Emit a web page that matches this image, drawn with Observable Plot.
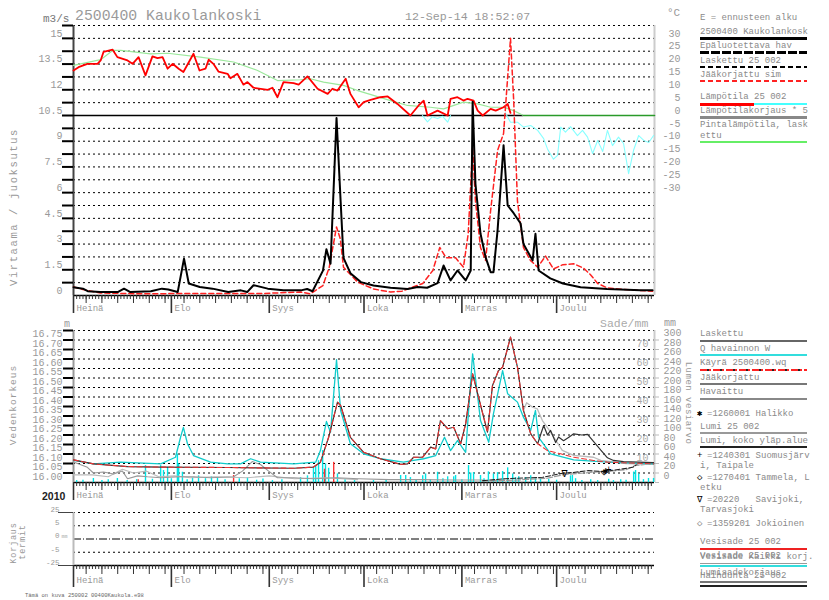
<!DOCTYPE html>
<html>
<head>
<meta charset="utf-8">
<script src="https://cdn.jsdelivr.net/npm/d3@7"></script>
<script src="https://cdn.jsdelivr.net/npm/@observablehq/plot@0.6"></script>
<style>
html,body{margin:0;padding:0;background:#fff;}
#root{position:relative;width:829px;height:600px;overflow:hidden;font-family:"Liberation Mono","DejaVu Sans Mono",monospace;}
.t{position:absolute;white-space:pre;line-height:1;}
</style>
</head>
<body>
<div id="root"></div>
<script>
// ================= DATA =================
// x = day index counted from 1 Jul 2010
const months = ["Heinä","Elo","Syys","Loka","Marras","Joulu"];
const monthStart = [0,31,62,92,123,153];

// --- top panel: discharge m3/s ---
const qObs = [[0,0.48],[3,0.4],[4.5,0.25],[8.5,0.2],[14,0.2],[16,0.4],[18,0.2],[24.5,0.25],[28,0.4],[30,0.35],[33,0.2],[35,2.15],[36.5,0.7],[40,0.5],[44,0.4],[49,0.2],[53,0.3],[55,0.2],[57,0.6],[61.5,0.4],[66.5,0.3],[72,0.3],[74,0.38],[75.7,0.25],[79,1.45],[80.1,2.7],[81.4,1.85],[83.3,10.35],[84.6,5.5],[85.5,2.2],[87.7,1.3],[91,0.78],[95,0.58],[100.4,0.45],[105.8,0.38],[109,0.5],[112,0.45],[115.3,0.72],[117.2,1.75],[119.4,0.88],[121.6,1.46],[124.2,0.88],[125.8,1.46],[126.4,11.3],[127.3,6.5],[128.9,3.6],[130.5,2.24],[132.1,1.36],[133,1.36],[134.3,3.8],[136.2,8.76],[137.5,5.25],[139.4,4.8],[141.6,4.2],[142.5,3.0],[145.4,2.05],[146.3,3.6],[147.3,1.46],[151,1.0],[155,0.7],[160.6,0.48],[169,0.38],[179.6,0.3],[183.4,0.3]];
const qSim = [[0,0.5],[3,0.35],[8.5,0.15],[20,0.1],[40,0.12],[60,0.12],[72,0.2],[75,0.1],[79,0.58],[81,1.65],[83.3,4.0],[84.5,3.3],[85.5,1.65],[90,0.78],[95,0.38],[100.4,0.2],[104,0.25],[107.5,0.5],[110.6,0.7],[113.8,1.46],[116,2.8],[118,2.2],[121,2.2],[123.5,1.65],[125,3.6],[126.4,8.66],[127.3,5.5],[128.9,2.8],[130.5,2.05],[132.1,4.96],[134.3,8.46],[136.2,9.45],[138.4,15.0],[139.4,11.4],[140.6,5.5],[142.5,2.8],[144.7,2.05],[147,1.65],[149.5,2.3],[152,1.55],[155,1.8],[158.4,1.85],[161.5,1.6],[163.8,1.2],[166,0.7],[169,0.45],[174,0.35],[183.4,0.25]];

// --- top panel: temperature °C ---
const tempObs = [[0,17.5],[1.6,18.8],[4.4,20.1],[7.6,20.1],[8.6,21.4],[9.5,24.7],[12.4,25.6],[13.9,22.7],[17.1,21.4],[18.7,20.1],[20.6,22.7],[22.8,15.6],[25,23],[26.6,22.3],[28.2,22.7],[29.8,18.2],[31.4,20.1],[33.3,18.2],[34.8,16.9],[38,24],[39.9,17.5],[41.8,18.2],[42.8,21.7],[44.3,20.1],[45.9,17.1],[48.8,16.2],[49.7,14.5],[51.9,16.2],[53.8,12],[55.1,13],[57,10.8],[61.5,10],[63,10.8],[64.6,7.1],[66.5,13],[69.7,12.6],[71.3,12],[74.1,15.2],[77.3,10.4],[80.5,8.4],[82,10.4],[83.6,9.7],[86.2,14.3],[87.7,8.4],[90.3,3.2],[91.9,5.2],[94.1,6.1],[97.2,7.1],[99.5,7.4],[102.6,4.5],[106.7,0],[109.3,3.9],[110.9,5.8],[112.1,0],[115.3,1.9],[118.5,0],[119.4,6.5],[121.6,7.1],[123.5,5.8],[124.8,6.5],[126.7,5.8],[128,1.9],[129.6,0],[132.1,2.6],[133.7,1.9],[136.2,3.2],[137.5,4.5],[138.4,1]];
const tempCyanA = [[110.5,0],[112.1,-2.5],[113.6,-0.5],[115.3,-1.2],[116.9,-0.3],[118.5,-2.6],[119.4,0]];
const tempCyanB = [[136.8,1],[138.4,-2.6],[140.6,-2.6],[142.5,-4.5],[144.8,-3.9],[147,-5.8],[148.9,-9],[150.1,-13],[152,-17],[153.3,-15.5],[154.3,-4.5],[155.8,-6.5],[157.4,-4.3],[159.6,-7.8],[161.2,-5.8],[162.8,-8.4],[164.4,-14.8],[166,-9.7],[167.6,-14],[169.1,-5.8],[170.7,-11.7],[172.6,-8.4],[174.2,-10.9],[175.8,-22.6],[177.4,-13.4],[179,-7.8],[180.6,-9.7],[182.2,-10.5],[183.7,-7.8]];
const tempSurf = [[0,19.5],[8.6,21.7],[12.4,25.3],[15,25.3],[24.4,24],[29.8,24.2],[40.2,22.7],[50.7,20.8],[58.3,17.5],[64.6,13.6],[71.9,13.9],[75,14.3],[79.2,13],[85.5,11.7],[90,9.7],[95,7.8],[100.4,5.8],[105.8,3.9],[113,3.2],[117.2,2.6],[123.5,5.2],[128,4.5],[132.1,3.2],[136.2,3.2],[139.4,1.9],[142.5,0],[184,0]];

// --- middle panel: water level m ---
const levelQ = [[0,16.066],[6.3,16.048],[14.9,16.057],[27.6,16.048],[32.3,16.083],[33.9,16.188],[34.8,16.24],[36.1,16.154],[38,16.092],[43.4,16.057],[48.8,16.048],[52.9,16.048],[56.1,16.075],[59.2,16.057],[69.7,16.048],[76.7,16.057],[78.2,16.118],[80.1,16.271],[81.4,16.215],[83.3,16.596],[84.6,16.329],[87.7,16.154],[91.9,16.101],[97.2,16.075],[104.5,16.057],[107.7,16.066],[110.9,16.075],[114.7,16.092],[117.5,16.188],[119.4,16.118],[121.6,16.171],[124.2,16.109],[126.4,16.627],[128.9,16.276],[131.5,16.162],[133,16.313],[135.9,16.539],[137.5,16.417],[140.6,16.373],[142.5,16.294],[144.8,16.224],[146.3,16.329],[147.3,16.188],[151.1,16.101],[158.4,16.069],[169.1,16.057],[183.7,16.048]];
const levelCurve = [[0,16.069],[6.3,16.048],[17.1,16.034],[27.6,16.031],[48.8,16.029],[69.7,16.025],[76,16.031],[78.2,16.057],[80.8,16.188],[83.6,16.373],[84.6,16.355],[87.7,16.188],[91.9,16.109],[97.2,16.075],[103.6,16.045],[105.8,16.048],[107.7,16.083],[110.6,16.083],[113.1,16.136],[114.7,16.127],[116.2,16.276],[118.5,16.233],[120.4,16.241],[122.6,16.154],[124.2,16.259],[126.4,16.522],[128,16.417],[131.1,16.215],[132.7,16.461],[134.6,16.539],[135.9,16.557],[138.4,16.715],[140.6,16.557],[142.5,16.329],[144.8,16.206],[147,16.154],[150.1,16.118],[154.3,16.101],[158.4,16.083],[164.7,16.066],[169.1,16.057],[183.7,16.048]];
const levelSimTail = [[147.9,16.2],[148.9,16.25],[150.1,16.2],[151.1,16.224],[152.7,16.16],[153.6,16.19],[155.2,16.17],[157,16.19],[158.4,16.206],[161,16.2],[162.8,16.203],[165,16.16],[167,16.12],[169.1,16.08],[171,16.066],[174.2,16.06],[183.7,16.055]];
const levelIce = [[142.5,16.329],[143.5,16.37],[145.4,16.346],[146.9,16.337],[148.5,16.276],[150.7,16.224],[154.8,16.119],[158.4,16.093],[164.7,16.083],[167,16.066],[175,16.05],[183.7,16.045]];
const levelHav = [[0,16.058],[4.4,16.03],[6.3,16.0],[9.5,16.005],[12.7,15.995],[15.5,16.01],[17.1,15.97],[20.3,15.985],[23.4,15.98],[27.6,15.975],[33.9,15.98],[38,15.98],[43.4,15.975],[50.7,15.98],[53.5,16.01],[56.6,16.06],[59.2,16.045],[61.8,16.01],[64.6,15.975],[69.7,15.975],[76,15.97],[83.3,15.975],[90.3,15.97],[100,15.965],[110,15.965],[120,15.963],[129.6,15.963]];
const levelHav2 = [[0,15.99],[6,15.99],[11,15.98],[15.5,16.02],[19,16.0],[23,16.01],[27,15.98],[32,15.985],[37,15.975],[45,15.98],[55,15.975],[62,15.985],[70,15.97],[80,15.975],[90,15.965]];

// --- middle panel: snow water equivalent, mm ---
const snowAll = [[129.6,4],[136.8,8],[148.6,11],[154.9,19.5],[158,21],[163.1,25],[167.9,23],[174,28.7],[177.1,32],[179,41],[184,41]];
const snow25 = [[129.6,3],[140,5],[150,9],[155.5,17],[160,19],[165,22],[170,24],[175,27],[178,36],[184,40]];
const stationSym = ["∇","◇","✱","+"];
const stationDay = [155.5,168,168.5,169.5];
const stationMm = [19,22,24,27];

// --- middle panel: precipitation, mm ---
const rainAll = [[1,1],[3,1.2],[6.3,2.1],[9,1],[11,1.5],[13.9,2.1],[17,1],[20,1.5],[22.8,8.9],[25,1.7],[27.6,8.9],[28.5,6.3],[29.8,8],[31,2],[32.9,15],[33.3,9.8],[34.5,5.4],[36,1.5],[37.7,2.5],[39.6,3.5],[41.8,2],[43.7,3],[45.6,2.5],[48,1.5],[52.5,2],[55.1,2.5],[58,1.2],[60,1.8],[63,1],[66,1.5],[71.9,2.5],[74.1,3.5],[76,8],[76.7,8.9],[77.6,11.5],[78.9,16.8],[79.8,9.8],[80.8,7.5],[83.6,4.5],[86,1.5],[89,1],[95,1],[99,1.5],[103.6,3.7],[105.2,3.7],[106.7,2.6],[108.5,1.5],[110.6,3.5],[111.5,4.5],[113,1.5],[115.3,5.4],[117,2],[118.5,3],[120.4,3],[121,3.7],[123,1.5],[125.1,8.9],[125.8,5],[126.7,5.2],[128.9,3.7],[130,2],[131.4,5.6],[133,4.5],[134.3,5.2],[135.9,5.8],[137.5,7.7],[139.1,4.5],[140,2.6],[141,3],[143.2,2.6],[144.8,3.5],[146.3,2.6],[147.9,2.1],[150.5,1.7],[153,1.2],[157.4,3.5],[158,3.7],[159,2],[161,1],[163.8,1.5],[166,1],[169.5,1.7],[171,1],[173.3,1.5],[175,1.2],[177.4,5.5],[178,6.3],[179,4.5],[180.5,1.5],[182.1,2.1],[183.7,2.1]];
const rain25 = [[20.5,1.5],[50.7,3.7],[79.5,7],[82.4,10.6]];

// --- tick labels ---
const qLabels = [0,1.5,3,4.5,6,7.5,9,10.5,12,13.5,15];
const tempLabels = [30,25,20,15,10,5,0,-5,-10,-15,-20,-25,-30];
const levelLabels = ["16.00","16.05","16.10","16.15","16.20","16.25","16.30","16.35","16.40","16.45","16.50","16.55","16.60","16.65","16.70","16.75"];
const sadeLabels = [10,20,30,40,50,60,70];
const snowLabels = [0,20,40,60,80,100,120,140,160,180,200,220,240,260,280,300];
const corrLabels = ["-25","-5","0","5","25"];

// ================= HELPERS =================
const root = document.getElementById("root");
const FONT = "'Liberation Mono','DejaVu Sans Mono',monospace";
const tq = T => 10.5 + T * 0.15;            // °C -> left scale units
const sadeH = mm => 15.95 + mm * 0.01;      // Sade/mm -> m
const snowH = mm => 15.95 + mm * 0.0025;    // snow mm -> m
const X = d => d[0], Y = d => d[1];

const qGrid = d3.range(1, 22).map(i => i * 0.75);
const dayTicks = d3.range(0, 184);
const fiveTicks = monthStart.flatMap(m => [4,9,14,19,24,29].map(k => m + k)).filter(d => d < 184);

function xAxisMarks(dot, five, mon, labelDy) {
  return [
    Plot.axisX({ticks: dayTicks, tickSize: dot, tickFormat: () => "", stroke: "#333", label: null}),
    Plot.axisX({ticks: fiveTicks, tickSize: five, tickFormat: () => "", stroke: "#333", label: null}),
    Plot.axisX({ticks: monthStart, tickSize: mon, tickFormat: () => "", stroke: "#333", strokeWidth: 1.6, label: null}),
    Plot.text(monthStart, {x: d => d, text: (d, i) => months[i], frameAnchor: "bottom", dy: labelDy, dx: 3, textAnchor: "start", fill: "#999", fontSize: 9})
  ];
}
function mount(svg, y0) {
  const d = document.createElement("div");
  d.style.cssText = `position:absolute;left:0;top:${y0}px;`;
  d.append(svg);
  root.append(d);
}
function txt(s, x, cy, size, color, extra = "") {
  const d = document.createElement("div");
  d.className = "t";
  d.textContent = s;
  d.style.cssText = `left:${x}px;top:${cy}px;font-size:${size}px;color:${color};transform:translateY(-50%);${extra}`;
  root.append(d);
}
function rot(s, cx, cy, size, color, deg, ls) {
  const d = document.createElement("div");
  d.className = "t";
  d.textContent = s;
  d.style.cssText = `left:${cx}px;top:${cy}px;font-size:${size}px;color:${color};letter-spacing:${ls}px;transform:translate(-50%,-50%) rotate(${deg}deg);`;
  root.append(d);
}
function bar(x, y, w, h, bg) {
  const d = document.createElement("div");
  d.style.cssText = `position:absolute;left:${x}px;top:${y - h / 2}px;width:${w}px;height:${h}px;background:${bg};`;
  root.append(d);
}
const dash = (c, on, off) => `repeating-linear-gradient(90deg, ${c} 0 ${on}px, transparent ${on}px ${on + off}px)`;
const common = {width: 829, marginLeft: 73, marginRight: 175, x: {domain: [0, 184]},
  style: {background: "transparent", fontFamily: FONT}};

// ================= TOP PANEL =================
const topPlot = Plot.plot({
  ...common, height: 318, marginTop: 25, marginBottom: 23,
  y: {domain: [0, 15.75]},
  marks: [
    Plot.ruleY(qGrid.filter(v => v !== 10.5), {stroke: "#000", strokeDasharray: "2,3", strokeWidth: 1}),
    Plot.ruleY([0], {stroke: "#000", strokeWidth: 1.5}),
    Plot.ruleX([0], {stroke: "#444", strokeWidth: 2}),
    Plot.ruleX([184], {stroke: "#ccc", strokeWidth: 2}),
    Plot.ruleY([10.5], {x1: () => 0, x2: () => 142.5, stroke: "#000", strokeWidth: 1.3}),
    Plot.line(tempSurf.filter(d => d[0] <= 142.5), {x: X, y: d => tq(d[1]), stroke: "#9be89b", strokeWidth: 1.2}),
    Plot.line(tempSurf.filter(d => d[0] >= 142.5), {x: X, y: d => tq(d[1]), stroke: "#2a9a2a", strokeWidth: 1.6}),
    Plot.line(tempCyanA, {x: X, y: d => tq(d[1]), stroke: "#8ff", strokeWidth: 1.1}),
    Plot.line(tempCyanB, {x: X, y: d => tq(d[1]), stroke: "#8ff", strokeWidth: 1.1}),
    Plot.line(tempObs, {x: X, y: d => tq(d[1]), stroke: "#f00", strokeWidth: 1.8}),
    Plot.line(qSim, {x: X, y: Y, stroke: "#f22", strokeWidth: 1.5, strokeDasharray: "5,3"}),
    Plot.line(qObs, {x: X, y: Y, stroke: "#000", strokeWidth: 2}),
    Plot.axisY({ticks: qGrid, tickSize: 11, tickFormat: () => "", stroke: "#000", strokeWidth: 2, label: null}),
    Plot.text(qLabels, {y: d => d, text: d => String(d), frameAnchor: "left", dx: -11, dy: -5, textAnchor: "end", fill: "#999", fontSize: 10}),
    Plot.text(tempLabels, {y: d => tq(d), text: d => String(d), frameAnchor: "right", dx: 26, dy: -5, textAnchor: "end", fill: "#999", fontSize: 10}),
    ...xAxisMarks(4, 8, 18, 15)
  ]
});
mount(topPlot, 0);

// ================= MIDDLE PANEL =================
const levelTicks = levelLabels.map(Number);
const levelSim = levelCurve.filter(d => d[0] <= 147).concat(levelSimTail);
const midPlot = Plot.plot({
  ...common, height: 187, marginTop: 12, marginBottom: 23,
  y: {domain: [15.95, 16.75]},
  marks: [
    Plot.ruleY(levelTicks, {stroke: "#000", strokeDasharray: "2,3", strokeWidth: 1}),
    Plot.ruleY([15.95], {stroke: "#000", strokeWidth: 1.5}),
    Plot.ruleX([0], {stroke: "#999", strokeWidth: 2}),
    Plot.ruleX([184], {stroke: "#ccc", strokeWidth: 2}),
    Plot.ruleX(rainAll, {x: X, y1: () => 15.95, y2: d => sadeH(d[1]), stroke: "#00e5e5", strokeWidth: 1.4}),
    Plot.ruleX(rain25, {x: X, y1: () => 15.95, y2: d => sadeH(d[1]), stroke: "#f33", strokeWidth: 1.4}),
    Plot.line(levelHav2, {x: X, y: Y, stroke: "#bbb", strokeWidth: 1.1}),
    Plot.line(levelHav, {x: X, y: Y, stroke: "#999", strokeWidth: 1.1}),
    Plot.line(snow25, {x: X, y: d => snowH(d[1]), stroke: "#999", strokeWidth: 1.2, strokeDasharray: "6,2"}),
    Plot.line(snowAll, {x: X, y: d => snowH(d[1]), stroke: "#222", strokeWidth: 1.1, strokeDasharray: "5,2"}),
    Plot.line(levelIce, {x: X, y: Y, stroke: "#bbb", strokeWidth: 1.3}),
    Plot.line(levelQ, {x: X, y: Y, stroke: "#1cc", strokeWidth: 1.3}),
    Plot.line(levelSim, {x: X, y: Y, stroke: "#333", strokeWidth: 1.2}),
    Plot.line(levelCurve, {x: X, y: Y, stroke: "#e33", strokeWidth: 1.1, strokeDasharray: "5,3"}),
    Plot.text(stationSym, {x: (d, i) => stationDay[i], y: (d, i) => snowH(stationMm[i]), text: d => d, fill: "#000", fontSize: 10}),
    Plot.axisY({ticks: levelTicks, tickSize: 10, tickFormat: () => "", stroke: "#000", strokeWidth: 2, label: null}),
    Plot.axisY({ticks: snowLabels.map(snowH), anchor: "right", tickSize: 4, tickFormat: () => "", stroke: "#bbb", label: null}),
    Plot.text(levelLabels, {y: d => Number(d), text: d => d, frameAnchor: "left", dx: -11, dy: 3.5, textAnchor: "end", fill: "#999", fontSize: 10}),
    Plot.text(sadeLabels, {y: d => sadeH(d), text: d => String(d), frameAnchor: "right", dx: -6, dy: -6, textAnchor: "end", fill: "#aaa", fontSize: 10}),
    Plot.text(snowLabels, {y: d => snowH(d), text: d => String(d), frameAnchor: "right", dx: 9, dy: -7, textAnchor: "start", fill: "#999", fontSize: 10}),
    ...xAxisMarks(4, 8, 18, 15)
  ]
});
mount(midPlot, 318);

// ================= BOTTOM PANEL =================
const corrPos = [-2, -1, 0, 1, 2];
const botPlot = Plot.plot({
  ...common, height: 88, marginTop: 7, marginBottom: 28,
  y: {domain: [-2, 2]},
  marks: [
    Plot.ruleY([2, 1, -1], {stroke: "#000", strokeDasharray: "2,3", strokeWidth: 1}),
    Plot.ruleY([0], {stroke: "#000", strokeDasharray: "8,2,1,2", strokeWidth: 1}),
    Plot.ruleY([-2], {stroke: "#000", strokeWidth: 1.5}),
    Plot.ruleX([0], {stroke: "#bbb", strokeWidth: 2}),
    Plot.axisY({ticks: [2, -2], tickSize: 15, tickFormat: () => "", stroke: "#444", strokeWidth: 1, label: null}),
    Plot.text(corrPos, {y: d => d, text: (d, i) => corrLabels[i], frameAnchor: "left", dx: -14, dy: -3, textAnchor: "end", fill: "#999", fontSize: 7.5}),
    Plot.text(["mm"], {y: () => 0, text: d => d, frameAnchor: "left", dx: -12, dy: -3, textAnchor: "start", fill: "#aaa", fontSize: 5}),
    ...xAxisMarks(4, 9, 22, 17)
  ]
});
mount(botPlot, 505);

// ================= TEXTS =================
txt("2500400 Kaukolankoski", 75, 16, 14.8, "#9a9a9a");
txt("12-Sep-14 18:52:07", 405, 17, 11.6, "#999");
txt("m3/s", 43, 19, 11, "#777");
txt("°C", 667, 13, 11, "#999");
txt("m", 64, 325, 10, "#999");
txt("Sade/mm", 600, 324, 11.5, "#aaa");
txt("mm", 664, 324, 10, "#999");
txt("2010", 42, 496, 10.5, "#222", "font-family:'Liberation Sans',Arial,sans-serif;font-weight:bold;");
txt("Tämä on kuva 250002 00400Kaukola.e98", 25, 596, 5.5, "#666");
rot("Virtaama / juoksutus", 14, 207, 10.5, "#999", -90, 1.6);
rot("Vedenkorkeus", 14, 405, 9.5, "#999", -90, 1);
rot("Korjaus", 14, 543, 8.5, "#999", -90, 0.8);
rot("termit", 23, 542, 8.5, "#999", -90, 0.8);
rot("Lumen vesiarvo", 687, 403, 9, "#999", 90, 0.5);

// top legend
const LX = 700, LW = 107, LF = 9, LC = "#8a8a8a";
txt("E = ennusteen alku", LX, 18, LF, LC);
txt("2500400 Kaukolankosk", LX, 32, LF, LC); bar(LX, 38, LW, 3, "#000");
txt("Epäluotettava hav", LX, 46, LF, LC); bar(LX, 52, LW, 3, dash("#000", 9, 2));
txt("Laskettu 25 002", LX, 61, LF, LC); bar(LX, 67, LW, 1.5, dash("#000", 5, 3));
txt("Jääkorjattu sim", LX, 75, LF, LC); bar(LX, 81, LW, 1.5, dash("#f22", 5, 3));
txt("Lämpötila 25 002", LX, 97, LF, LC); bar(LX, 104, 54, 3, "#f00"); bar(LX + 54, 104, LW - 54, 1.5, "#4ff");
txt("Lämpötilakorjaus * 5", LX, 111, LF, LC); bar(LX, 117, LW, 3, "#888");
txt("Pintalämpötila, lask", LX, 125, LF, LC);
txt("ettu", LX, 136, LF, LC); bar(LX, 142, LW, 2, "#6e6");

// middle legend
txt("Laskettu", LX, 334, LF, LC); bar(LX, 341, LW, 2, "#666");
txt("Q havainnon W", LX, 349, LF, LC); bar(LX, 355, LW, 2, "#3dd");
txt("Käyrä 2500400.wq", LX, 363, LF, LC);
bar(LX, 370, LW, 2, "repeating-linear-gradient(90deg,#f22 0 7px,#222 7px 9px,#f22 9px 11px,transparent 11px 13px)");
txt("Jääkorjattu", LX, 378, LF, LC); bar(LX, 384, LW, 2, "#777");
txt("Havaittu", LX, 392, LF, LC); bar(LX, 399, LW, 2, "#888");
txt("✱", 697, 414, LF, "#000"); txt("=1260001 Halikko", 707, 414, LF, LC);
txt("Lumi 25 002", LX, 427, LF, LC); bar(LX, 433, LW, 1.5, "#999");
txt("Lumi, koko yläp.alue", LX, 441, LF, LC); bar(LX, 447, LW, 1.5, "#222");
txt("+", 697, 456, LF, "#000"); txt("=1240301 Suomusjärv", 707, 456, LF, LC);
txt("i, Taipale", LX, 466, LF, LC);
txt("◇", 697, 478, LF, "#000"); txt("=1270401 Tammela, L", 707, 478, LF, LC);
txt("etku", LX, 488, LF, LC);
txt("∇", 697, 500, LF, "#000"); txt("=20220   Savijoki,", 707, 500, LF, LC);
txt("Tarvasjoki", LX, 510, LF, LC);
txt("◇", 697, 524, LF, "#888"); txt("=1359201 Jokioinen", 707, 524, LF, LC);
txt("Vesisade 25 002", LX, 542, LF, LC); bar(LX, 549, LW, 1.5, "#e22");
txt("Vesisade Kaikki korj.", LX, 557, LF, LC);
txt("Vesisade 25 002", LX, 556, LF, LC);
bar(LX, 563, LW, 1, "#999"); bar(LX, 566, LW, 2, "#3dd");
txt("Lumisadekorjaus", LX, 573, LF, LC);
txt("Haihdunta 25 002", LX, 576, LF, LC);
bar(LX, 582, LW, 1.5, "#777"); bar(LX, 586, LW, 1.5, "#222");
</script>
</body>
</html>
